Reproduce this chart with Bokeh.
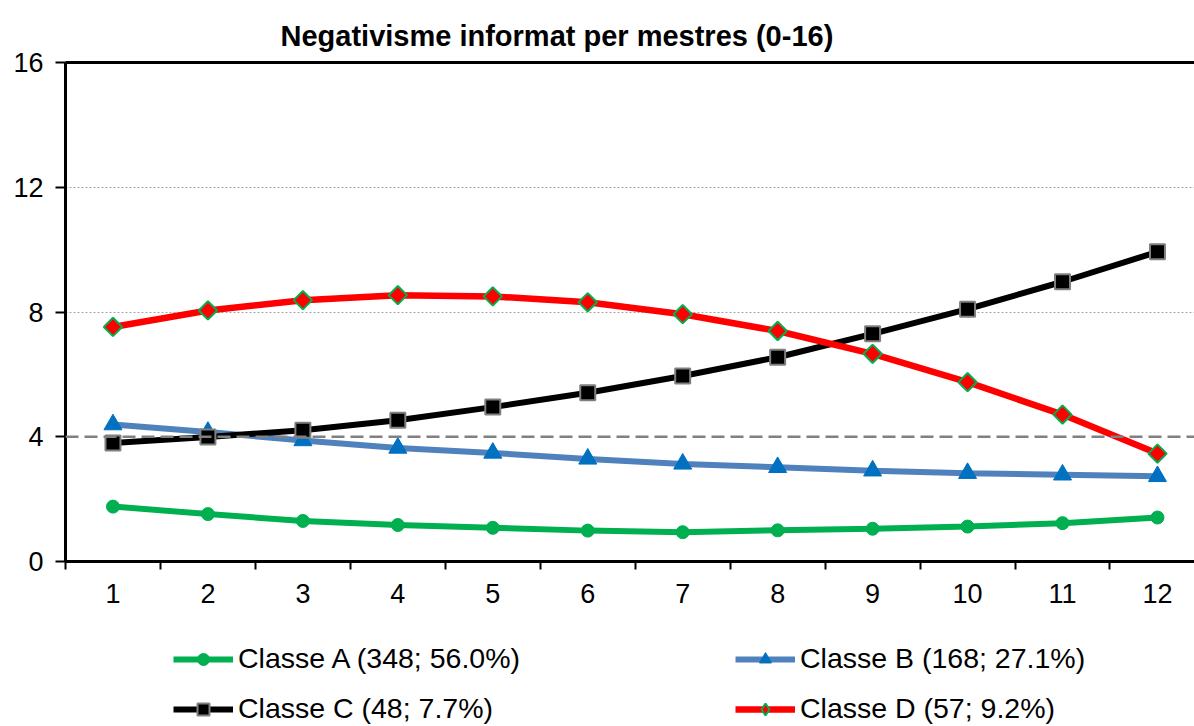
import math
from bokeh.plotting import figure
from bokeh.layouts import column
from bokeh.models import (Range1d, FixedTicker, LinearAxis, Span, Legend, LegendItem, Title)
from bokeh.embed import file_html
from bokeh.resources import INLINE

title_text = "Negativisme informat per mestres (0-16)"
x_vals = [1, 2, 3, 4, 5, 6, 7, 8, 9, 10, 11, 12]
y_ticks = [0, 4, 8, 12, 16]

series_names = ["Classe A (348; 56.0%)", "Classe B (168; 27.1%)",
                "Classe C (48; 7.7%)", "Classe D (57; 9.2%)"]
classe_a = [1.76, 1.52, 1.30, 1.17, 1.08, 0.99, 0.94, 1.00, 1.05, 1.12, 1.23, 1.41]
classe_b = [4.39, 4.15, 3.88, 3.64, 3.48, 3.29, 3.13, 3.02, 2.91, 2.83, 2.78, 2.73]
classe_c = [3.80, 3.99, 4.21, 4.53, 4.95, 5.41, 5.95, 6.55, 7.30, 8.09, 8.97, 9.93]
classe_d = [7.52, 8.05, 8.38, 8.54, 8.50, 8.31, 7.93, 7.39, 6.66, 5.75, 4.71, 3.46]
all_series = [classe_a, classe_b, classe_c, classe_d]

FONT = "Liberation Sans"

styles = [
    dict(line_color="#00B050", line_width=6, marker="circle", size=13,
         fill_color="#00B050", mline="#00B050", mlw=1, angle=0,
         lg_marker="circle", lg_size=11),
    dict(line_color="#4F81BD", line_width=6, marker="triangle", size=18,
         fill_color="#0070C0", mline="#0070C0", mlw=1, angle=0,
         lg_marker="triangle", lg_size=15),
    dict(line_color="black", line_width=6, marker="square", size=15,
         fill_color="black", mline="#808080", mlw=2, angle=0,
         lg_marker="square", lg_size=12),
    dict(line_color="#FF0000", line_width=6.5, marker="square", size=13,
         fill_color="#FF0000", mline="#00B050", mlw=2, angle=math.pi / 4,
         lg_marker="diamond", lg_size=23),
]

p = figure(width=1194, height=617, output_backend="svg", toolbar_location=None,
           x_range=Range1d(0.5, 12.39), y_range=Range1d(0, 16),
           min_border_left=65, min_border_right=0, min_border_top=62,
           min_border_bottom=56, outline_line_color=None,
           background_fill_color="white", border_fill_color="white")

p.title = Title(text=title_text, align="left", offset=215,
                text_font=FONT, text_font_size="29px", text_font_style="bold",
                text_color="black", standoff=9)

# grid
p.xgrid.visible = False
p.ygrid.ticker = FixedTicker(ticks=[8, 12])
p.ygrid.grid_line_color = "#A6A6A6"
p.ygrid.grid_line_dash = "2 2"
p.ygrid.grid_line_width = 1

p.add_layout(Span(location=4, dimension="width", line_color="#808080",
                  line_width=2.5, line_dash="13 6"))

# axes
xa = p.xaxis[0]
xa.ticker = FixedTicker(ticks=x_vals, minor_ticks=[v - 0.5 for v in x_vals] + [12.5])
xa.axis_line_width = 3
xa.axis_line_color = "black"
xa.major_tick_line_color = None
xa.major_tick_out = 8
xa.major_tick_in = 0
xa.minor_tick_line_color = "black"
xa.minor_tick_line_width = 2
xa.minor_tick_out = 8
xa.minor_tick_in = 0
xa.major_label_standoff = 14
xa.major_label_text_font = FONT
xa.major_label_text_font_size = "27px"
xa.major_label_text_color = "black"

ya = p.yaxis[0]
ya.ticker = FixedTicker(ticks=y_ticks)
ya.axis_line_width = 3
ya.axis_line_color = "black"
ya.major_tick_line_color = "black"
ya.major_tick_line_width = 2
ya.major_tick_out = 10
ya.major_tick_in = 0
ya.minor_tick_line_color = None
ya.major_label_standoff = 12
ya.major_label_text_font = FONT
ya.major_label_text_font_size = "27px"
ya.major_label_text_color = "black"

top_axis = LinearAxis(axis_line_width=3, axis_line_color="black",
                      major_tick_line_color=None, minor_tick_line_color=None,
                      major_label_text_font_size="0px", major_label_text_color=None)
p.add_layout(top_axis, "above")

# series on main plot
for vals, st in zip(all_series, styles):
    p.line(x_vals, vals, line_color=st["line_color"], line_width=st["line_width"])
    p.scatter(x_vals, vals, marker=st["marker"], size=st["size"], angle=st["angle"],
              fill_color=st["fill_color"], line_color=st["mline"], line_width=st["mlw"])

# legend strip below (its renderers use the same data, kept outside its view range)
q = figure(width=1194, height=109, output_backend="svg", toolbar_location=None,
           x_range=Range1d(-3, -2), y_range=Range1d(-3, -2),
           x_axis_type=None, y_axis_type=None, outline_line_color=None,
           min_border_left=0, min_border_right=0, min_border_top=0, min_border_bottom=0,
           background_fill_color="white", border_fill_color="white")
q.xgrid.visible = False
q.ygrid.visible = False

items = []
for name, vals, st in zip(series_names, all_series, styles):
    lr = q.line(x_vals, vals, line_color=st["line_color"], line_width=st["line_width"])
    sr = q.scatter(x_vals, vals, marker=st["lg_marker"], size=st["lg_size"],
                   fill_color=st["fill_color"], line_color=st["mline"], line_width=st["mlw"])
    items.append(LegendItem(label=name, renderers=[lr, sr]))

def add_row(row_items, y):
    lg = Legend(items=row_items, location=(108, y), orientation="horizontal",
                glyph_width=60, glyph_height=30, label_height=30, label_width=497,
                label_standoff=5, padding=0, margin=0, spacing=0,
                border_line_color=None, background_fill_alpha=0,
                label_text_font=FONT, label_text_font_size="28.5px",
                label_text_color="black")
    q.add_layout(lg, "center")

add_row(items[0:2], 51)
add_row(items[2:4], 1)

layout = column(p, q, spacing=0)
open("out.html", "w").write(file_html(layout, INLINE))
